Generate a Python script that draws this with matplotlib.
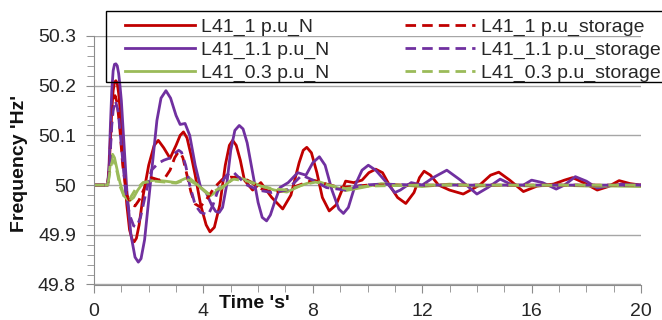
import matplotlib
matplotlib.use("Agg")
import matplotlib.pyplot as plt
from matplotlib.patches import Rectangle
from matplotlib.ticker import MultipleLocator, FuncFormatter
from matplotlib import transforms

plt.rcParams['font.family'] = ['Liberation Sans', 'DejaVu Sans']

# ---------------------------------------------------------------
# data (time in s, frequency in Hz)
# ---------------------------------------------------------------
t_r_n = [0, 0.5, 0.55, 0.6, 0.65, 0.7, 0.75, 0.8, 0.85, 0.9, 0.95, 1.0, 1.1, 1.2, 1.3, 1.4, 1.47, 1.55,
         1.65, 1.8, 2.0, 2.2, 2.35, 2.55, 2.78, 3.0, 3.15, 3.27, 3.4, 3.55, 3.7, 3.9, 4.1, 4.24, 4.4,
         4.6, 4.8, 4.95, 5.07, 5.2, 5.35, 5.5, 5.8, 6.1, 6.5, 6.9, 7.2, 7.5, 7.65, 7.78, 7.95, 8.15,
         8.35, 8.6, 8.85, 9.2, 9.5, 9.8, 10.05, 10.3, 10.55, 10.8, 11.1, 11.4, 11.7, 11.9, 12.07, 12.3,
         12.6, 13.0, 13.5, 14.1, 14.5, 14.8, 15.2, 15.7, 16.2, 16.8, 17.2, 17.5, 17.9, 18.4, 18.8, 19.2,
         19.6, 20]
f_r_n = [50, 50, 50.03, 50.09, 50.15, 50.19, 50.207, 50.21, 50.205, 50.185, 50.155, 50.12, 50.03,
         49.96, 49.91, 49.89, 49.886, 49.893, 49.92, 49.98, 50.04, 50.08, 50.09, 50.075, 50.054, 50.08,
         50.1, 50.107, 50.095, 50.06, 50.02, 49.96, 49.92, 49.906, 49.915, 49.96, 50.04, 50.08, 50.09,
         50.08, 50.05, 50.01, 49.99, 50.005, 49.975, 49.952, 49.98, 50.045, 50.07, 50.076, 50.065,
         50.025, 49.975, 49.948, 49.96, 50.008, 50.005, 50.01, 50.025, 50.032, 50.025, 50.0, 49.975,
         49.963, 49.985, 50.015, 50.028, 50.02, 50.0, 49.99, 49.982, 50.0, 50.02, 50.026, 50.01, 49.987,
         49.998, 50.002, 50.01, 50.015, 50.005, 49.99, 49.997, 50.009, 50.003, 50.0]

t_p_n = [0, 0.5, 0.55, 0.6, 0.65, 0.7, 0.75, 0.8, 0.85, 0.9, 0.95, 1.0, 1.1, 1.2, 1.35, 1.5, 1.62, 1.72,
         1.85, 2.0, 2.15, 2.3, 2.45, 2.63, 2.8, 3.0, 3.15, 3.33, 3.5, 3.7, 3.9, 4.1, 4.3, 4.45, 4.58,
         4.7, 4.85, 5.0, 5.15, 5.31, 5.45, 5.6, 5.8, 6.0, 6.15, 6.31, 6.45, 6.6, 6.8, 7.1, 7.45, 7.75,
         8.0, 8.24, 8.45, 8.7, 8.95, 9.12, 9.3, 9.55, 9.8, 10.03, 10.3, 10.7, 11.0, 11.2, 11.6, 12.0,
         12.4, 12.9, 13.4, 14.0, 14.4, 14.85, 15.3, 15.7, 16.0, 16.4, 16.9, 17.2, 17.6, 18.0, 18.4,
         18.8, 19.3, 20]
f_p_n = [50, 50, 50.04, 50.12, 50.19, 50.23, 50.243, 50.244, 50.24, 50.225, 50.2, 50.17, 50.08, 49.99,
         49.9, 49.855, 49.845, 49.852, 49.89, 49.97, 50.05, 50.13, 50.175, 50.19, 50.175, 50.14, 50.122,
         50.124, 50.1, 50.04, 49.995, 49.985, 49.96, 49.947, 49.945, 49.955, 50.0, 50.07, 50.11, 50.12,
         50.113, 50.085, 50.025, 49.965, 49.935, 49.928, 49.94, 49.965, 49.995, 50.005, 50.025, 50.02,
         50.045, 50.057, 50.04, 49.99, 49.952, 49.943, 49.955, 50.0, 50.03, 50.04, 50.03, 50.005, 49.985,
         49.99, 50.005, 50.0, 50.015, 50.03, 50.01, 49.982, 49.995, 50.012, 50.0, 50.0, 50.01, 50.005,
         49.992, 50.0, 50.017, 50.008, 49.994, 49.998, 50.002, 50.0]

t_g_n = [0, 0.5, 0.55, 0.6, 0.68, 0.75, 0.85, 0.95, 1.1, 1.29, 1.45, 1.6, 1.8, 2.2, 2.6, 3.0, 3.45, 3.8,
         4.24, 4.7, 5.16, 5.6, 6.1, 6.6, 7.05, 7.6, 8.1, 8.6, 9.2, 9.8, 10.5, 11.3, 12.0, 13.0, 14.0,
         15.0, 16.0, 17.0, 18.0, 19.0, 20]
f_g_n = [50, 50, 50.02, 50.045, 50.062, 50.055, 50.03, 50.005, 49.978, 49.968, 49.975, 49.99, 50.005,
         50.01, 50.008, 50.005, 50.016, 50.0, 49.978, 49.995, 50.017, 50.01, 49.998, 49.99, 49.986, 50.0,
         50.009, 50.0, 49.989, 49.995, 50.003, 50.0, 49.997, 50.002, 49.998, 50.0, 49.998, 50.0, 49.998,
         49.998, 49.997]

t_r_s = [0, 0.5, 0.55, 0.6, 0.65, 0.7, 0.77, 0.85, 0.95, 1.05, 1.2, 1.35, 1.5, 1.65, 1.85, 2.1, 2.4,
         2.6, 2.78, 2.95, 3.05, 3.14, 3.25, 3.4, 3.55, 3.7, 3.88, 4.1, 4.4, 4.7, 5.0, 5.3, 5.6, 5.9, 6.2,
         6.6, 7.0, 7.5, 8.0, 8.5, 9.0, 10.0, 12.0, 14.0, 16.0, 18.0, 20]
f_r_s = [50, 50, 50.03, 50.08, 50.13, 50.16, 50.18, 50.165, 50.11, 50.04, 49.98, 49.962, 49.958, 49.97,
         49.995, 50.015, 50.01, 50.015, 50.03, 50.055, 50.064, 50.067, 50.055, 50.02, 49.985, 49.962,
         49.956, 49.97, 49.995, 50.012, 50.016, 50.015, 50.01, 50.0, 49.99, 49.985, 49.99, 50.0, 50.01,
         50.002, 49.995, 50.0, 50.0, 50.0, 50.0, 50.0, 50.0]

t_p_s = [0, 0.5, 0.55, 0.6, 0.65, 0.7, 0.78, 0.88, 1.0, 1.15, 1.3, 1.45, 1.56, 1.7, 1.9, 2.1, 2.35,
         2.55, 2.8, 3.0, 3.1, 3.2, 3.35, 3.5, 3.7, 3.9, 4.17, 4.35, 4.6, 4.85, 5.08, 5.3, 5.6, 6.0, 6.5,
         7.05, 7.6, 8.0, 8.5, 9.2, 9.8, 10.5, 12.0, 14.0, 16.0, 18.0, 20]
f_p_s = [50, 50, 50.025, 50.07, 50.12, 50.15, 50.17, 50.15, 50.08, 49.99, 49.94, 49.918, 49.916, 49.935,
         49.985, 50.03, 50.044, 50.05, 50.055, 50.066, 50.07, 50.066, 50.04, 50.0, 49.96, 49.945, 49.94,
         49.96, 50.0, 50.02, 50.027, 50.015, 50.0, 49.99, 49.985, 49.99, 50.02, 50.01, 49.995, 49.99, 50.0,
         50.002, 50.0, 50.0, 50.0, 50.0, 50.0]

t_g_s = [0, 0.5, 0.55, 0.6, 0.68, 0.75, 0.85, 0.95, 1.1, 1.3, 1.5, 1.8, 2.2, 2.6, 3.0, 3.4, 3.8, 4.2,
         4.7, 5.1, 5.6, 6.1, 6.6, 7.1, 7.6, 8.1, 8.6, 9.2, 10.0, 12.0, 14.0, 16.0, 18.0, 20]
f_g_s = [50, 50, 50.015, 50.035, 50.05, 50.045, 50.025, 49.998, 49.977, 49.972, 49.99, 50.005, 50.008,
         50.006, 50.004, 50.012, 50.0, 49.982, 49.997, 50.012, 50.008, 49.998, 49.992, 49.99, 50.0,
         50.006, 50.0, 49.993, 49.998, 50.0, 50.0, 50.0, 50.0, 50.0]

labels = ['L41_1 p.u_N', 'L41_1.1 p.u_N', 'L41_0.3 p.u_N',
          'L41_1 p.u_storage', 'L41_1.1 p.u_storage', 'L41_0.3 p.u_storage']

RED = '#C00000'
PURPLE = '#7030A0'
GREEN = '#9BBB59'

fig = plt.figure(figsize=(6.62, 3.2), dpi=100)
ax = fig.add_axes([94 / 662, 1 - 284.5 / 320, 547 / 662, 248.5 / 320])

lw = 2.0
dash = (3.8, 2.2)
ax.plot(t_r_n, f_r_n, color=RED, lw=lw, label=labels[0])
ax.plot(t_p_n, f_p_n, color=PURPLE, lw=lw, label=labels[1])
ax.plot(t_g_n, f_g_n, color=GREEN, lw=lw, label=labels[2])
ax.plot(t_r_s, f_r_s, color=RED, lw=lw, dashes=dash, label=labels[3])
ax.plot(t_p_s, f_p_s, color=PURPLE, lw=lw, dashes=dash, label=labels[4])
ax.plot(t_g_s, f_g_s, color=GREEN, lw=lw, dashes=dash, label=labels[5])

ax.set_xlim(0, 20)
ax.set_ylim(49.8, 50.3)
ax.xaxis.set_major_locator(MultipleLocator(4))
ax.xaxis.set_minor_locator(MultipleLocator(1))
ax.yaxis.set_major_locator(MultipleLocator(0.1))
ax.yaxis.set_minor_locator(MultipleLocator(0.02))
ax.yaxis.set_major_formatter(FuncFormatter(lambda v, p: ('%.1f' % v).rstrip('0').rstrip('.')))

ax.grid(axis='y', which='major', color='#a6a6a6', lw=1)
ax.set_axisbelow(True)
for s in ['top', 'right']:
    ax.spines[s].set_visible(False)
for s in ['left', 'bottom']:
    ax.spines[s].set_color('#8c8c8c')
ax.tick_params(which='both', direction='out', color='#8c8c8c', labelcolor='#262626', labelsize=14)
ax.tick_params(which='major', length=6, pad=7)
ax.tick_params(which='minor', length=5)

# labels
blend = transforms.blended_transform_factory(ax.transData, fig.transFigure)
ax.text(5.85, 1 - 303 / 320, "Time 's'", transform=blend, ha='center', va='center',
        fontsize=14, fontweight='bold', color='#111111')
fig.text(20 / 662, 1 - 163 / 320, "Frequency 'Hz'", rotation=90, ha='center', va='center',
         fontsize=14, fontweight='bold', color='#111111')

# legend (frame drawn separately, it runs off the right edge)
leg = fig.legend(loc='upper left', bbox_to_anchor=(125 / 662, 1 - 18 / 320), ncol=2,
                 frameon=False, fontsize=14, borderpad=0, borderaxespad=0,
                 handlelength=3.6, handletextpad=0.3, columnspacing=3.9, labelspacing=0.28)
for txt in leg.get_texts():
    txt.set_color('#262626')
fig.patches.append(Rectangle((106 / 662, 1 - 82 / 320), 600 / 662, 71 / 320,
                             transform=fig.transFigure, fill=False, edgecolor='black', lw=1))

plt.savefig('out.png', dpi=100)
